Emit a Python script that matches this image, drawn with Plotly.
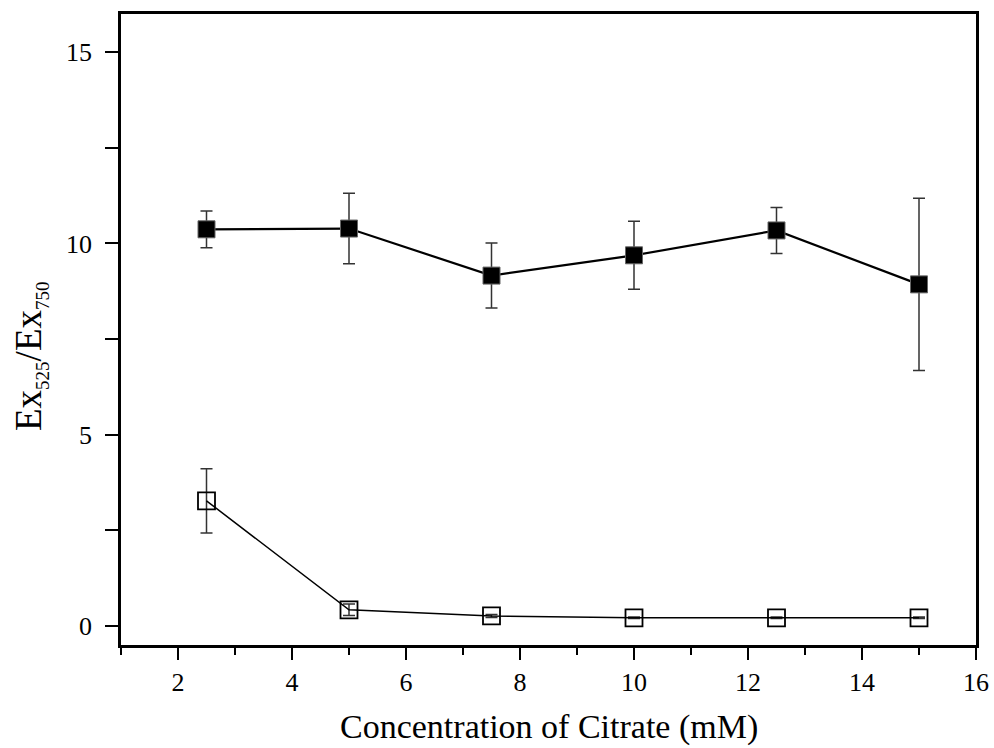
import plotly.graph_objects as go

conc = [2.5, 5, 7.5, 10, 12.5, 15]
filled_y = [10.37, 10.39, 9.16, 9.69, 10.34, 8.93]
filled_err = [0.48, 0.92, 0.85, 0.89, 0.60, 2.25]
open_y = [3.27, 0.42, 0.26, 0.21, 0.21, 0.21]
open_err = [0.84, 0.15, 0.04, 0.02, 0.02, 0.02]

x_title = "Concentration of Citrate (mM)"
y_title = ("Ex<sub><span style='font-size:19px'>525</span></sub>/"
           "Ex<sub><span style='font-size:19px'>750</span></sub>")

font_family = "Liberation Serif, Times New Roman, serif"

W, H = 994, 748
ML, MR, MT, MB = 121, 18, 14, 103
PW, PH = W - ML - MR, H - MT - MB

fig = go.Figure()
fig.add_trace(go.Scatter(
    x=conc, y=filled_y, mode="lines+markers",
    line=dict(color="black", width=2.2),
    marker=dict(symbol="square", size=17, color="black", line=dict(color="#666", width=1)),
    error_y=dict(type="data", array=filled_err, visible=True, color="#333", thickness=1.5, width=6),
    showlegend=False,
))
fig.add_trace(go.Scatter(
    x=conc, y=open_y, mode="lines+markers",
    line=dict(color="black", width=1.5),
    marker=dict(symbol="square-open", size=17, color="black", line=dict(width=1.8)),
    error_y=dict(type="data", array=open_err, visible=True, color="#333", thickness=1.5, width=6),
    showlegend=False,
))

fig.update_layout(
    width=W, height=H,
    margin=dict(l=ML, r=MR, t=MT, b=MB, autoexpand=False),
    paper_bgcolor="white", plot_bgcolor="white",
    font=dict(family=font_family, size=25, color="black"),
)
fig.update_xaxes(
    range=[1, 16], tickmode="linear", tick0=2, dtick=2,
    ticks="outside", ticklen=12, tickwidth=2, tickcolor="black",
    minor=dict(ticks="outside", ticklen=7, tickwidth=2, tickcolor="black", dtick=1, tick0=1),
    showline=True, linewidth=2.5, linecolor="black", mirror=True,
    showgrid=False, zeroline=False, automargin=False,
    tickfont=dict(size=26), ticklabelstandoff=0,
)
fig.update_yaxes(
    range=[-0.5, 16], tickmode="linear", tick0=0, dtick=5,
    ticks="outside", ticklen=13, tickwidth=2, tickcolor="black",
    minor=dict(ticks="outside", ticklen=13, tickwidth=2, tickcolor="black", dtick=2.5, tick0=0),
    showline=True, linewidth=2.5, linecolor="black", mirror=True,
    showgrid=False, zeroline=False, automargin=False,
    tickfont=dict(size=26), ticklabelstandoff=8,
)

fig.add_annotation(
    text=x_title, xref="paper", yref="paper",
    x=0.5, y=-(727 - (H - MB)) / PH,
    xanchor="center", yanchor="middle", showarrow=False,
    font=dict(size=34, family=font_family),
)
fig.add_annotation(
    text=y_title, xref="paper", yref="paper",
    x=(30 - ML) / PW, y=((H - MB) - 356) / PH,
    xanchor="center", yanchor="middle", showarrow=False, textangle=-90,
    font=dict(size=37, family=font_family),
)

fig.write_html("out.html")
